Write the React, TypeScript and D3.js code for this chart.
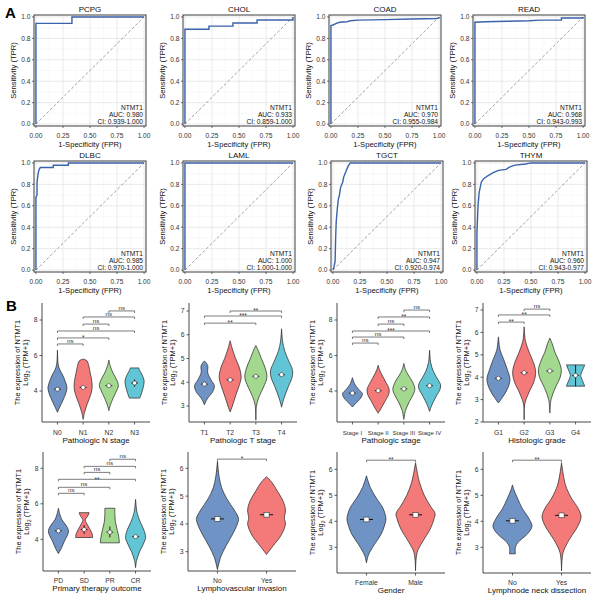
import React from "react";
import * as d3 from "d3";

const FONT = "'Liberation Sans', Arial, Helvetica, sans-serif";

// ---------------- Panel A : ROC data ----------------
const rocTitles = ["PCPG", "CHOL", "COAD", "READ", "DLBC", "LAML", "TGCT", "THYM"];
const rocAuc = ["0.980", "0.933", "0.970", "0.968", "0.985", "1.000", "0.947", "0.960"];
const rocCi = ["0.939-1.000", "0.859-1.000", "0.955-0.984", "0.943-0.993", "0.970-1.000", "1.000-1.000", "0.920-0.974", "0.943-0.977"];
const rocGene = "NTMT1";

const rocPCPG = [[0, 0], [0, 0.94], [0.333, 0.94], [0.333, 1], [1, 1]];
const rocCHOL = [[0, 0], [0, 0.885], [0.222, 0.885], [0.222, 0.914], [0.444, 0.914], [0.444, 0.943], [0.667, 0.943], [0.667, 0.971], [1, 0.971], [1, 1]];
const rocCOAD = [[0, 0], [0, 0.92], [0.02, 0.925], [0.05, 0.94], [0.08, 0.95], [0.15, 0.955], [0.18, 0.965], [0.25, 0.97], [0.5, 0.975], [0.75, 0.98], [0.98, 0.985], [1, 0.99], [1, 1]];
const rocREAD = [[0, 0], [0, 0.95], [0.1, 0.955], [0.3, 0.96], [0.5, 0.965], [0.6, 0.97], [0.8, 0.97], [0.8, 0.99], [1, 0.99], [1, 1]];
const rocDLBC = [[0, 0], [0, 0.68], [0.01, 0.7], [0.01, 0.82], [0.02, 0.9], [0.03, 0.94], [0.04, 0.957], [0.16, 0.957], [0.16, 0.978], [0.3, 0.978], [0.3, 1], [1, 1]];
const rocLAML = [[0, 0], [0, 1], [1, 1]];
const rocTGCT = [[0, 0], [0.01, 0.03], [0.02, 0.08], [0.025, 0.3], [0.03, 0.45], [0.04, 0.57], [0.05, 0.66], [0.06, 0.7], [0.07, 0.77], [0.09, 0.82], [0.1, 0.87], [0.12, 0.92], [0.14, 0.97], [0.16, 1], [1, 1]];
const rocTHYM = [[0, 0], [0, 0.35], [0.01, 0.6], [0.02, 0.72], [0.04, 0.82], [0.06, 0.85], [0.1, 0.88], [0.15, 0.91], [0.2, 0.93], [0.27, 0.94], [0.3, 0.96], [0.35, 0.98], [0.45, 0.99], [0.5, 1], [1, 1]];
const rocCurves = [rocPCPG, rocCHOL, rocCOAD, rocREAD, rocDLBC, rocLAML, rocTGCT, rocTHYM];

const rocXTicks = [0, 0.25, 0.5, 0.75, 1];
const rocXTickLabels = ["0.00", "0.25", "0.50", "0.75", "1.00"];
const rocYTicks = [0, 0.2, 0.4, 0.6, 0.8, 1];
const rocYTickLabels = ["0.0", "0.2", "0.4", "0.6", "0.8", "1.0"];
const rocXMinor = [0.125, 0.375, 0.625, 0.875];
const rocYMinor = [0.1, 0.3, 0.5, 0.7, 0.9];

// ---------------- Panel B : violin data ----------------
// profiles: [value, relative half-width]
const nStageCats = ["N0", "N1", "N2", "N3"];
const nStageProfiles = [
  [[2.8, 0], [3.1, 0.25], [3.5, 0.6], [3.9, 0.9], [4.2, 1.0], [4.5, 0.85], [4.9, 0.55], [5.2, 0.25], [5.5, 0.08], [6.3, 0]],
  [[2.4, 0], [2.8, 0.15], [3.3, 0.45], [3.8, 0.8], [4.2, 0.95], [4.6, 0.9], [5.0, 0.75], [5.4, 0.6], [5.7, 0.4], [5.8, 0]],
  [[2.9, 0], [3.2, 0.15], [3.6, 0.45], [4.0, 0.8], [4.3, 1.0], [4.6, 0.85], [5.0, 0.45], [5.4, 0.15], [5.75, 0]],
  [[3.6, 0.55], [3.9, 0.75], [4.3, 0.95], [4.6, 1.0], [4.9, 0.8], [5.2, 0.5], [5.3, 0.45]],
];
const nStageMeans = [4.1, 4.2, 4.3, 4.45];
const nStageErr = [[4.05, 4.15], [4.15, 4.25], [4.22, 4.38], [4.25, 4.65]];
const nStageBrackets = [[0, 1, 6.65, "ns"], [0, 2, 6.99, "*"], [0, 3, 7.38, "ns"], [1, 2, 7.77, "ns"], [1, 3, 8.17, "ns"], [2, 3, 8.51, "ns"]];
const nStageTicks = [4, 6, 8];

const tStageCats = ["T1", "T2", "T3", "T4"];
const tStageProfiles = [
  [[3.05, 0], [3.3, 0.25], [3.6, 0.75], [3.85, 0.9], [4.1, 0.6], [4.4, 0.3], [4.7, 0.3], [4.9, 0]],
  [[2.75, 0], [3.0, 0.2], [3.5, 0.55], [3.9, 0.85], [4.2, 1.0], [4.6, 0.85], [5.0, 0.5], [5.4, 0.2], [5.75, 0]],
  [[2.4, 0], [3.0, 0.05], [3.4, 0.3], [3.8, 0.7], [4.2, 1.0], [4.6, 0.85], [5.0, 0.5], [5.3, 0.25], [5.55, 0]],
  [[2.95, 0], [3.3, 0.2], [3.8, 0.6], [4.2, 0.95], [4.5, 1.0], [4.9, 0.65], [5.3, 0.3], [5.7, 0.1], [6.25, 0]],
];
const tStageMeans = [3.92, 4.1, 4.25, 4.32];
const tStageErr = [[3.88, 3.96], [4.05, 4.15], [4.2, 4.3], [4.26, 4.38]];
const tStageBrackets = [[0, 2, 6.49, "**"], [0, 3, 6.79, "***"], [1, 3, 7.0, "**"]];
const tStageTicks = [3, 4, 5, 6, 7];

const stageCats = ["Stage I", "Stage II", "Stage III", "Stage IV"];
const stageProfiles = [
  [[3.1, 0], [3.3, 0.3], [3.6, 0.75], [3.85, 0.9], [4.1, 0.55], [4.4, 0.2], [4.75, 0]],
  [[2.75, 0], [3.0, 0.25], [3.4, 0.6], [3.8, 0.95], [4.1, 1.0], [4.5, 0.7], [4.9, 0.35], [5.2, 0.12], [5.45, 0]],
  [[2.4, 0], [2.9, 0.15], [3.4, 0.5], [3.8, 0.85], [4.1, 1.0], [4.5, 0.8], [4.9, 0.4], [5.2, 0.15], [5.55, 0]],
  [[2.85, 0], [3.2, 0.2], [3.7, 0.6], [4.1, 0.95], [4.35, 1.0], [4.7, 0.7], [5.1, 0.35], [5.6, 0.1], [6.3, 0]],
];
const stageMeans = [3.88, 4.02, 4.12, 4.3];
const stageErr = [[3.84, 3.92], [3.97, 4.07], [4.07, 4.17], [4.24, 4.36]];
const stageBrackets = [[0, 1, 6.7, "ns"], [0, 2, 7.04, "ns"], [0, 3, 7.38, "***"], [1, 2, 7.77, "ns"], [1, 3, 8.17, "**"], [2, 3, 8.56, "ns"]];
const stageTicks = [4, 6, 8];

const gradeCats = ["G1", "G2", "G3", "G4"];
const gradeProfiles = [
  [[2.85, 0], [3.1, 0.35], [3.5, 0.8], [3.9, 1.0], [4.3, 0.8], [4.8, 0.45], [5.2, 0.15], [5.8, 0]],
  [[2.1, 0], [2.8, 0.05], [3.3, 0.4], [3.8, 0.85], [4.2, 1.0], [4.6, 0.85], [5.1, 0.45], [5.6, 0.12], [6.25, 0]],
  [[2.4, 0], [3.0, 0.1], [3.5, 0.45], [4.0, 0.9], [4.3, 1.0], [4.7, 0.8], [5.1, 0.45], [5.5, 0.2], [5.75, 0]],
  [[3.6, 0.8], [3.85, 0.6], [4.08, 0.45], [4.3, 0.6], [4.55, 0.8]],
];
const gradeMeans = [3.95, 4.2, 4.28, 4.08];
const gradeErr = [[3.9, 4.0], [4.15, 4.25], [4.22, 4.34], [3.6, 4.55]];
const gradeBrackets = [[0, 1, 6.46, "**"], [0, 2, 6.78, "**"], [1, 2, 7.04, "ns"]];
const gradeTicks = [2, 3, 4, 5, 6, 7];

const outcomeCats = ["PD", "SD", "PR", "CR"];
const outcomeProfiles = [
  [[3.2, 0], [3.5, 0.3], [3.9, 0.6], [4.3, 0.95], [4.5, 1.0], [4.8, 0.75], [5.1, 0.35], [5.4, 0.15], [5.75, 0]],
  [[4.1, 0.85], [4.3, 0.8], [4.6, 0.55], [4.9, 0.25], [5.1, 0.12], [5.3, 0.35], [5.5, 0.5]],
  [[3.8, 0.95], [4.1, 0.9], [4.5, 0.75], [5.0, 0.55], [5.4, 0.5], [5.75, 0.5]],
  [[2.4, 0], [2.8, 0.1], [3.3, 0.4], [3.7, 0.75], [4.1, 1.0], [4.5, 0.85], [5.0, 0.45], [5.5, 0.15], [6.25, 0]],
];
const outcomeMeans = [4.48, 4.55, 4.4, 4.15];
const outcomeErr = [[4.4, 4.56], [4.3, 4.8], [4.1, 4.72], [4.1, 4.2]];
const outcomeBrackets = [[0, 1, 6.59, "ns"], [0, 2, 6.93, "ns"], [0, 3, 7.38, "**"], [1, 2, 7.77, "ns"], [1, 3, 8.11, "ns"], [2, 3, 8.51, "ns"]];
const outcomeTicks = [4, 6, 8];

const lviCats = ["No", "Yes"];
const lviProfiles = [
  [[2.35, 0], [2.8, 0.15], [3.2, 0.4], [3.6, 0.7], [4.0, 0.95], [4.2, 1.0], [4.5, 0.8], [4.9, 0.45], [5.3, 0.2], [5.7, 0.08], [6.25, 0]],
  [[2.9, 0], [3.2, 0.3], [3.6, 0.7], [4.0, 0.9], [4.2, 0.85], [4.5, 0.9], [4.8, 0.8], [5.2, 0.5], [5.5, 0.25], [5.7, 0]],
];
const lviMeans = [4.18, 4.33];
const lviBrackets = [[0, 1, 6.33, "*"]];
const lviTicks = [3, 4, 5, 6];

const genderCats = ["Female", "Male"];
const genderProfiles = [
  [[2.4, 0], [2.7, 0.1], [3.1, 0.4], [3.5, 0.75], [3.9, 0.95], [4.1, 1.0], [4.5, 0.85], [4.9, 0.5], [5.3, 0.2], [5.75, 0]],
  [[2.1, 0], [2.8, 0.08], [3.2, 0.35], [3.7, 0.75], [4.1, 0.95], [4.3, 1.0], [4.6, 0.75], [5.0, 0.45], [5.5, 0.2], [6.25, 0]],
];
const genderMeans = [4.07, 4.25];
const genderBrackets = [[0, 1, 6.35, "**"]];
const genderTicks = [3, 4, 5, 6];

const neckCats = ["No", "Yes"];
const neckProfiles = [
  [[2.75, 0.15], [3.0, 0.15], [3.2, 0.3], [3.5, 0.75], [3.8, 1.0], [4.1, 0.85], [4.5, 0.5], [4.9, 0.25], [5.2, 0.08], [5.4, 0]],
  [[2.1, 0], [2.8, 0.08], [3.3, 0.4], [3.7, 0.75], [4.0, 0.95], [4.2, 1.0], [4.5, 0.85], [4.9, 0.5], [5.4, 0.2], [6.25, 0]],
];
const neckMeans = [4.02, 4.23];
const neckBrackets = [[0, 1, 6.35, "**"]];
const neckTicks = [3, 4, 5, 6];

const violinColors = ["#6f93c5", "#f47a7a", "#a3d88f", "#62c5d5"];

// ---------------- layout ----------------
const rocLefts = [34, 183, 329, 473, 34, 183, 331, 475];
const rocTops = [15, 15, 15, 15, 161, 161, 161, 161];
const ROC_W = 112;
const ROC_H = 111;

const violinPanels = [
  { title: "Pathologic N stage", cats: nStageCats, profiles: nStageProfiles, means: nStageMeans, err: nStageErr, brackets: nStageBrackets, ticks: nStageTicks, ax: 42, top: 303, bottom: 422, ref: [4, 391, 8, 320], hw: 9.5, row: 0, catFont: 6.8 },
  { title: "Pathologic T stage", cats: tStageCats, profiles: tStageProfiles, means: tStageMeans, err: tStageErr, brackets: tStageBrackets, ticks: tStageTicks, ax: 189, top: 303, bottom: 422, ref: [3, 406, 7, 311], hw: 11, row: 0, catFont: 6.8 },
  { title: "Pathologic stage", cats: stageCats, profiles: stageProfiles, means: stageMeans, err: stageErr, brackets: stageBrackets, ticks: stageTicks, ax: 337, top: 303, bottom: 422, ref: [4, 391, 8, 320], hw: 11, row: 0, catFont: 6.1 },
  { title: "Histologic grade", cats: gradeCats, profiles: gradeProfiles, means: gradeMeans, err: gradeErr, brackets: gradeBrackets, ticks: gradeTicks, ax: 483, top: 303, bottom: 422, ref: [2, 422, 7, 310], hw: 11.5, row: 0, catFont: 6.8 },
  { title: "Primary therapy outcome", cats: outcomeCats, profiles: outcomeProfiles, means: outcomeMeans, err: outcomeErr, brackets: outcomeBrackets, ticks: outcomeTicks, ax: 43, top: 452, bottom: 571, ref: [4, 539.3, 8, 468.3], hw: 10, row: 1, catFont: 6.8 },
  { title: "Lymphovascular invasion", cats: lviCats, profiles: lviProfiles, means: lviMeans, err: null, brackets: lviBrackets, ticks: lviTicks, ax: 188, top: 452, bottom: 571, ref: [3, 551.7, 6, 468.3], hw: 21, row: 1, catFont: 6.8 },
  { title: "Gender", cats: genderCats, profiles: genderProfiles, means: genderMeans, err: null, brackets: genderBrackets, ticks: genderTicks, ax: 337, top: 452, bottom: 573, ref: [3, 547.3, 6, 469.3], hw: 19.5, row: 1, catFont: 6.8 },
  { title: "Lymphnode neck dissection", cats: neckCats, profiles: neckProfiles, means: neckMeans, err: null, brackets: neckBrackets, ticks: neckTicks, ax: 483, top: 452, bottom: 573, ref: [3, 547.3, 6, 469.3], hw: 19.5, row: 1, catFont: 6.8 },
];

const AX_W = 108;
const AXIS_COLOR = "#333";

function RocPanel({ i }: { i: number }) {
  const left = rocLefts[i];
  const top = rocTops[i];
  const bottom = top + ROC_H;
  const right = left + ROC_W;
  const x = d3.scaleLinear().domain([-0.018, 1.018]).range([left, right]);
  const y = d3.scaleLinear().domain([-0.018, 1.018]).range([bottom, top]);
  const line = d3.line<number[]>().x((d) => x(d[0])).y((d) => y(d[1]));
  return (
    <g fontFamily={FONT}>
      <rect x={left} y={top} width={ROC_W} height={ROC_H} fill="#fff" />
      {rocXMinor.map((v) => (
        <line key={"xm" + v} x1={x(v)} x2={x(v)} y1={top} y2={bottom} stroke="#f2f2f2" strokeWidth={0.5} />
      ))}
      {rocYMinor.map((v) => (
        <line key={"ym" + v} x1={left} x2={right} y1={y(v)} y2={y(v)} stroke="#f2f2f2" strokeWidth={0.5} />
      ))}
      {rocXTicks.map((v) => (
        <line key={"xg" + v} x1={x(v)} x2={x(v)} y1={top} y2={bottom} stroke="#e3e3e3" strokeWidth={0.8} />
      ))}
      {rocYTicks.map((v) => (
        <line key={"yg" + v} x1={left} x2={right} y1={y(v)} y2={y(v)} stroke="#e3e3e3" strokeWidth={0.8} />
      ))}
      <line x1={x(0)} y1={y(0)} x2={x(1)} y2={y(1)} stroke="#8a8a8a" strokeWidth={0.8} strokeDasharray="3,2" />
      <path d={line(rocCurves[i] as number[][]) || ""} fill="none" stroke="#3a62ab" strokeWidth={1.4} />
      <rect x={left} y={top} width={ROC_W} height={ROC_H} fill="none" stroke="#3d3d3d" strokeWidth={1} />
      {rocXTicks.map((v, k) => (
        <g key={"xt" + v}>
          <line x1={x(v)} x2={x(v)} y1={bottom} y2={bottom + 2} stroke="#333" strokeWidth={0.7} />
          <text x={x(v)} y={bottom + 11.5} fontSize={6.6} textAnchor="middle" fill="#333">{rocXTickLabels[k]}</text>
        </g>
      ))}
      {rocYTicks.map((v, k) => (
        <g key={"yt" + v}>
          <line x1={left - 2} x2={left} y1={y(v)} y2={y(v)} stroke="#333" strokeWidth={0.7} />
          <text x={left - 3.5} y={y(v) + 2.3} fontSize={6.6} textAnchor="end" fill="#333">{rocYTickLabels[k]}</text>
        </g>
      ))}
      <text x={(left + right) / 2} y={top - 3.5} fontSize={8} textAnchor="middle" fill="#111">{rocTitles[i]}</text>
      <text x={(left + right) / 2} y={bottom + 20.5} fontSize={7.6} textAnchor="middle" fill="#111">1-Specificity (FPR)</text>
      <text transform={`translate(${left - 18.5},${(top + bottom) / 2}) rotate(-90)`} fontSize={7.6} textAnchor="middle" fill="#111">Sensitivity (TPR)</text>
      <text x={right - 3} y={bottom - 16.5} fontSize={6.6} textAnchor="end" fill="#111">{rocGene}</text>
      <text x={right - 3} y={bottom - 9} fontSize={6.6} textAnchor="end" fill="#111">AUC: {rocAuc[i]}</text>
      <text x={right - 3} y={bottom - 1.8} fontSize={6.6} textAnchor="end" fill="#111">CI: {rocCi[i]}</text>
    </g>
  );
}

function ViolinPanel({ p }: { p: any }) {
  const y = d3.scaleLinear().domain([p.ref[0], p.ref[2]]).range([p.ref[1], p.ref[3]]);
  const x = d3.scalePoint<string>().domain(p.cats).range([p.ax, p.ax + AX_W]).padding(0.6);
  const two = p.cats.length === 2;
  const tickOff = p.row === 0 ? 12.5 : 11.5;
  const titleOff = p.row === 0 ? 20.5 : 19.5;
  const midY = (p.top + p.bottom) / 2;
  return (
    <g fontFamily={FONT}>
      {p.cats.map((c: string, i: number) => {
        const cx = x(c) as number;
        const area = d3
          .area<number[]>()
          .y((d) => y(d[0]))
          .x0((d) => cx - d[1] * p.hw)
          .x1((d) => cx + d[1] * p.hw)
          .curve(d3.curveCatmullRom.alpha(0.5));
        const my = y(p.means[i]);
        return (
          <g key={c}>
            <path d={area(p.profiles[i]) || ""} fill={violinColors[i]} stroke="#222" strokeWidth={0.7} />
            {two ? (
              <g>
                <line x1={cx - 6.5} x2={cx + 6.5} y1={my} y2={my} stroke="#111" strokeWidth={1} />
                <rect x={cx - 2.6} y={my - 2.4} width={5.2} height={4.8} fill="#fff" stroke="#333" strokeWidth={0.6} />
              </g>
            ) : (
              <g>
                <line x1={cx} x2={cx} y1={y(p.err[i][0])} y2={y(p.err[i][1])} stroke="#111" strokeWidth={0.9} />
                <line x1={cx - 3.5} x2={cx + 3.5} y1={my} y2={my} stroke="#111" strokeWidth={0.8} />
                <circle cx={cx} cy={my} r={2.1} fill="#fff" stroke="#333" strokeWidth={0.6} />
              </g>
            )}
          </g>
        );
      })}
      {p.brackets.map((b: any[], k: number) => {
        const x1 = x(p.cats[b[0]]) as number;
        const x2 = x(p.cats[b[1]]) as number;
        const by = y(b[2]);
        const star = b[3] !== "ns";
        return (
          <g key={"b" + k}>
            <path d={`M${x1},${by + 2}V${by}H${x2}V${by + 2}`} fill="none" stroke="#444" strokeWidth={0.7} />
            <text x={(x1 + x2) / 2} y={star ? by + 2.2 : by - 1.2} fontSize={star ? 6.5 : 6.2} textAnchor="middle" fill="#333">{b[3]}</text>
          </g>
        );
      })}
      <line x1={p.ax} x2={p.ax} y1={p.top} y2={p.bottom} stroke={AXIS_COLOR} strokeWidth={0.9} />
      <line x1={p.ax} x2={p.ax + AX_W} y1={p.bottom} y2={p.bottom} stroke={AXIS_COLOR} strokeWidth={0.9} />
      {p.ticks.map((t: number) => (
        <g key={"t" + t}>
          <line x1={p.ax - 2.5} x2={p.ax} y1={y(t)} y2={y(t)} stroke={AXIS_COLOR} strokeWidth={0.8} />
          <text x={p.ax - 4.5} y={y(t) + 2.4} fontSize={6.8} textAnchor="end" fill="#333">{t}</text>
        </g>
      ))}
      {p.cats.map((c: string) => (
        <g key={"x" + c}>
          <line x1={x(c) as number} x2={x(c) as number} y1={p.bottom} y2={p.bottom + 2.5} stroke={AXIS_COLOR} strokeWidth={0.8} />
          <text x={x(c) as number} y={p.bottom + tickOff} fontSize={p.catFont} textAnchor="middle" fill="#333">{c}</text>
        </g>
      ))}
      <text x={p.ax + AX_W / 2} y={p.bottom + titleOff} fontSize={8} textAnchor="middle" fill="#111">{p.title}</text>
      <text transform={`translate(${p.ax - 22},${midY}) rotate(-90)`} fontSize={7.4} textAnchor="middle" fill="#111">The expression of NTMT1</text>
      <text transform={`translate(${p.ax - 14.5},${midY}) rotate(-90)`} fontSize={7.4} textAnchor="middle" fill="#111">
        Log<tspan fontSize={5.2} dy={2}>2</tspan><tspan dy={-2}> (TPM+1)</tspan>
      </text>
    </g>
  );
}

export default function App() {
  return (
    <svg width={599} height={600} style={{ position: "absolute", left: 0, top: 0, background: "#fff" }}>
      <rect width={599} height={600} fill="#fff" />
      {rocTitles.map((t, i) => (
        <RocPanel key={t} i={i} />
      ))}
      {violinPanels.map((p) => (
        <ViolinPanel key={p.title} p={p} />
      ))}
      <text x={5} y={18} fontSize={15} fontWeight="bold" fontFamily={FONT} fill="#000">A</text>
      <text x={6} y={311} fontSize={15} fontWeight="bold" fontFamily={FONT} fill="#000">B</text>
    </svg>
  );
}
